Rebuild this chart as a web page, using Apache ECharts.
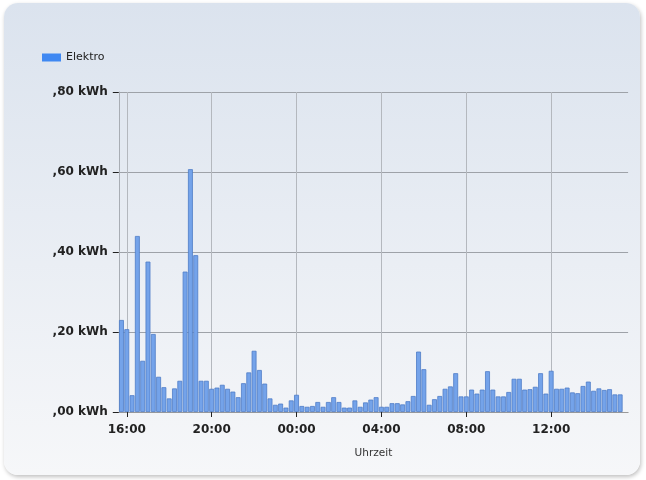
<!DOCTYPE html>
<html>
<head>
<meta charset="utf-8">
<script src="https://cdn.jsdelivr.net/npm/echarts@6/dist/echarts.min.js"></script>
<style>
  html, body { margin: 0; padding: 0; background: #fff; }
  #card {
    position: absolute; left: 4px; top: 3px; width: 636px; height: 472px;
    border-radius: 14px;
    background: linear-gradient(#dbe3ee, #f6f7f9);
    box-shadow: 1px 2px 4px rgba(0,0,0,0.25);
  }
  #chart { position: absolute; left: 0; top: 0; width: 646px; height: 480px; }
</style>
</head>
<body>
<div id="card"></div>
<div id="chart"></div>
<script>
// Verbrauch je Viertelstunde (kWh), ab 15:45
const seriesName = 'Elektro'
const values = [
  0.23, 0.207, 0.042, 0.44, 0.128, 0.376, 0.195, 0.088, 0.062, 0.034, 0.059, 0.078,
  0.351, 0.607, 0.392, 0.078, 0.078, 0.058, 0.061, 0.068, 0.058, 0.051, 0.037, 0.072,
  0.099, 0.153, 0.105, 0.071, 0.034, 0.018, 0.021, 0.011, 0.029, 0.043, 0.015, 0.013,
  0.015, 0.025, 0.013, 0.025, 0.037, 0.025, 0.011, 0.011, 0.029, 0.013, 0.024, 0.031,
  0.037, 0.013, 0.013, 0.022, 0.022, 0.019, 0.027, 0.04, 0.151, 0.107, 0.018, 0.032,
  0.04, 0.058, 0.064, 0.097, 0.039, 0.039, 0.056, 0.046, 0.056, 0.102, 0.056, 0.039,
  0.039, 0.05, 0.083, 0.083, 0.056, 0.057, 0.063, 0.097, 0.046, 0.103, 0.058, 0.058,
  0.061, 0.049, 0.047, 0.065, 0.076, 0.053, 0.059, 0.055, 0.057, 0.044, 0.044
]
// 96 Viertelstunden von 15:45 bis 15:30
const times = []
for (let m = 15 * 60 + 45, i = 0; i < 96; i++, m += 15) {
  const t = m % 1440
  times.push(String(Math.floor(t / 60)).padStart(2, '0') + ':' + String(t % 60).padStart(2, '0'))
}
const shownTimes = ['16:00', '20:00', '00:00', '04:00', '08:00', '12:00']
const yTicks = [0, 0.2, 0.4, 0.6, 0.8]

const isShown = (i) => shownTimes.includes(times[i])
const font = 'DejaVu Sans'

const chart = echarts.init(document.getElementById('chart'))
chart.setOption({
  animation: false,
  textStyle: { fontFamily: font },
  legend: {
    left: 37, top: 47,
    icon: 'rect',
    itemWidth: 19, itemHeight: 8, itemGap: 6,
    data: [{ name: seriesName, itemStyle: { color: '#3f88f2', borderWidth: 0 } }],
    textStyle: { fontSize: 11, color: '#222', fontFamily: font }
  },
  grid: { left: 118.8, right: 17.9, top: 92, bottom: 68, containLabel: false },
  xAxis: {
    type: 'category',
    data: times,
    boundaryGap: true,
    name: 'Uhrzeit',
    nameLocation: 'middle',
    nameGap: 36,
    nameTextStyle: { fontSize: 10.5, color: '#333', fontFamily: font },
    axisLine: { show: true, lineStyle: { color: '#999' } },
    axisTick: { show: true, alignWithLabel: true, interval: (i) => isShown(i), length: 5, lineStyle: { color: '#222' } },
    axisLabel: { interval: (i) => isShown(i), margin: 12, fontSize: 12, fontWeight: 'bold', color: '#222', fontFamily: font },
    splitLine: { show: true, alignWithLabel: true, interval: (i) => isShown(i), lineStyle: { color: '#b4b8be', width: 1 } }
  },
  yAxis: {
    type: 'value',
    min: yTicks[0], max: yTicks[yTicks.length - 1], interval: 0.2,
    axisLine: { show: true, lineStyle: { color: '#a8adb4' } },
    axisTick: { show: true, length: 6, lineStyle: { color: '#222' } },
    axisLabel: {
      margin: 11, fontSize: 12, fontWeight: 'bold', color: '#222', fontFamily: font,
      formatter: (v) => v.toFixed(2).replace(/^0\./, ',') + ' kWh'
    },
    splitLine: { show: true, lineStyle: { color: '#9ea2a8', width: 1 } }
  },
  series: [{
    name: seriesName,
    type: 'bar',
    data: values,
    barCategoryGap: '8%',
    itemStyle: { color: '#74a3ea', borderColor: '#4e7cc6', borderWidth: 0.8 }
  }]
})
</script>
</body>
</html>
